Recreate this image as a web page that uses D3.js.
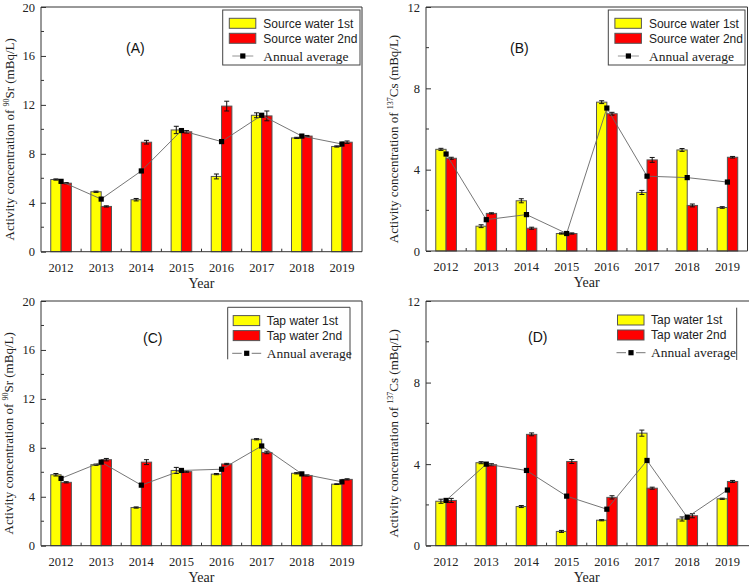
<!DOCTYPE html>
<html>
<head>
<meta charset="utf-8">
<script src="https://cdn.jsdelivr.net/npm/d3@7"></script>
<style>
  body { margin: 0; background: #fff; }
  svg { display: block; }
</style>
</head>
<body>
<div id="chart"></div>
<script>
const years = ["2012", "2013", "2014", "2015", "2016", "2017", "2018", "2019"];

// (A) source water, 90Sr
const srcSr1 = [5.9, 4.9, 4.25, 9.95, 6.15, 11.15, 9.3, 8.6];
const srcSr2 = [5.6, 3.7, 8.95, 9.8, 11.9, 11.1, 9.45, 8.95];
const srcSrAvg = [5.75, 4.3, 6.6, 9.9, 9.0, 11.15, 9.45, 8.8];
const srcSr1Err = [0.05, 0.05, 0.1, 0.3, 0.2, 0.2, 0.05, 0.05];
const srcSr2Err = [0.05, 0.05, 0.15, 0.1, 0.4, 0.4, 0.05, 0.1];

// (B) source water, 137Cs
const srcCs1 = [5.0, 1.22, 2.47, 0.86, 7.32, 2.88, 4.97, 2.14];
const srcCs2 = [4.56, 1.85, 1.12, 0.86, 6.75, 4.48, 2.24, 4.61];
const srcCsAvg = [4.77, 1.54, 1.79, 0.86, 7.03, 3.68, 3.61, 3.39];
const srcCs1Err = [0.05, 0.07, 0.1, 0.03, 0.07, 0.1, 0.07, 0.04];
const srcCs2Err = [0.05, 0.03, 0.05, 0.03, 0.07, 0.12, 0.07, 0.04];

// (C) tap water, 90Sr
const tapSr1 = [5.8, 6.62, 3.12, 6.15, 5.85, 8.7, 5.92, 5.03];
const tapSr2 = [5.18, 7.03, 6.83, 6.05, 6.68, 7.62, 5.74, 5.42];
const tapSrAvg = [5.5, 6.83, 4.95, 6.15, 6.25, 8.15, 5.87, 5.22];
const tapSr1Err = [0.1, 0.05, 0.05, 0.25, 0.05, 0.05, 0.05, 0.03];
const tapSr2Err = [0.05, 0.1, 0.2, 0.05, 0.05, 0.1, 0.05, 0.05];

// (D) tap water, 137Cs
const tapCs1 = [2.18, 4.07, 1.92, 0.7, 1.25, 5.52, 1.31, 2.3];
const tapCs2 = [2.22, 3.97, 5.46, 4.13, 2.37, 2.82, 1.47, 3.15];
const tapCsAvg = [2.22, 4.0, 3.69, 2.43, 1.79, 4.18, 1.4, 2.73];
const tapCs1Err = [0.1, 0.05, 0.05, 0.05, 0.03, 0.15, 0.1, 0.03];
const tapCs2Err = [0.1, 0.05, 0.07, 0.1, 0.08, 0.05, 0.1, 0.05];

const srTicks = [0, 4, 8, 12, 16, 20];
const csTicks = [0, 4, 8, 12];

const serif = "'Liberation Serif', 'Times New Roman', serif";
const sans = "'Liberation Sans', Arial, sans-serif";

const panels = [
    { tag: "(A)", label: "Source water", iso: "Sr", mass: "90", max: 20, ticks: srTicks,
      v1: srcSr1, v2: srcSr2, avg: srcSrAvg, e1: srcSr1Err, e2: srcSr2Err,
      left: 41, right: 362, top: 7, bottom: 251.7, legendBox: "full",
      lx: 222.7, ly: 10, lw: 137.3, lh: 55, tagX: 126, tagY: 53, titleX: 14 },
    { tag: "(B)", label: "Source water", iso: "Cs", mass: "137", max: 12, ticks: csTicks,
      v1: srcCs1, v2: srcCs2, avg: srcCsAvg, e1: srcCs1Err, e2: srcCs2Err,
      left: 426, right: 747.5, top: 7, bottom: 251, legendBox: "full",
      lx: 608.3, ly: 10, lw: 136.7, lh: 55, tagX: 510, tagY: 53, titleX: 398 },
    { tag: "(C)", label: "Tap water", iso: "Sr", mass: "90", max: 20, ticks: srTicks,
      v1: tapSr1, v2: tapSr2, avg: tapSrAvg, e1: tapSr1Err, e2: tapSr2Err,
      left: 41, right: 362, top: 301, bottom: 545.7, legendBox: "open",
      lx: 227.7, ly: 307.3, lw: 122.3, lh: 52, tagX: 143, tagY: 343, titleX: 13 },
    { tag: "(D)", label: "Tap water", iso: "Cs", mass: "137", max: 12, ticks: csTicks,
      v1: tapCs1, v2: tapCs2, avg: tapCsAvg, e1: tapCs1Err, e2: tapCs2Err,
      left: 426, right: 747.5, top: 301, bottom: 545.7, legendBox: "right", noRight: true,
      lx: 612, ly: 306.7, lw: 124.7, lh: 53.3, tagX: 528, tagY: 342, titleX: 398 }
];

const svg = d3.select("#chart").append("svg")
    .attr("width", 749)
    .attr("height", 587);

panels.forEach(p => {
    const g = svg.append("g");
    const x = d3.scaleBand().domain(years).range([p.left, p.right]).padding(0);
    const y = d3.scaleLinear().domain([0, p.max]).range([p.bottom, p.top]);
    const half = x.bandwidth() * 0.257;
    const sub = d3.scaleBand().domain(["1st", "2nd"]).range([-half, half]).padding(0);
    const cx = d => x(d) + x.bandwidth() / 2;

    // minor ticks on y (inward)
    const minor = d3.range(2, p.max, 4);
    g.selectAll(".ymin").data(minor).join("line")
        .attr("x1", p.left).attr("x2", p.left + 3)
        .attr("y1", d => y(d)).attr("y2", d => y(d))
        .attr("stroke", "#333").attr("stroke-width", 1);

    // minor ticks on x at band boundaries
    g.selectAll(".xmin").data(years.slice(1)).join("line")
        .attr("x1", d => x(d)).attr("x2", d => x(d))
        .attr("y1", p.bottom).attr("y2", p.bottom - 3)
        .attr("stroke", "#333").attr("stroke-width", 1);

    // bars
    const series = [
        { key: "1st", vals: p.v1, errs: p.e1, fill: "#ffff00" },
        { key: "2nd", vals: p.v2, errs: p.e2, fill: "#ff0000" }
    ];
    series.forEach(s => {
        g.selectAll(null).data(years).join("rect")
            .attr("x", d => cx(d) + sub(s.key))
            .attr("y", (d, i) => y(s.vals[i]))
            .attr("width", sub.bandwidth())
            .attr("height", (d, i) => y(0) - y(s.vals[i]))
            .attr("fill", s.fill)
            .attr("stroke", "#555")
            .attr("stroke-width", 1);

        // error bars
        years.forEach((d, i) => {
            const ex = cx(d) + sub(s.key) + sub.bandwidth() / 2;
            const hi = y(s.vals[i] + s.errs[i]);
            const lo = y(s.vals[i] - s.errs[i]);
            g.append("line").attr("x1", ex).attr("x2", ex).attr("y1", hi).attr("y2", lo)
                .attr("stroke", "#111").attr("stroke-width", 1);
            [hi, lo].forEach(yy => {
                g.append("line").attr("x1", ex - 2.5).attr("x2", ex + 2.5)
                    .attr("y1", yy).attr("y2", yy)
                    .attr("stroke", "#111").attr("stroke-width", 1);
            });
        });
    });

    // annual average line + markers
    g.append("path")
        .datum(years)
        .attr("fill", "none")
        .attr("stroke", "#666")
        .attr("stroke-width", 0.9)
        .attr("d", d3.line().x(d => cx(d)).y((d, i) => y(p.avg[i])));
    g.selectAll(".mk").data(years).join("rect")
        .attr("x", d => cx(d) - 2.6)
        .attr("y", (d, i) => y(p.avg[i]) - 2.6)
        .attr("width", 5.2).attr("height", 5.2)
        .attr("fill", "#000");

    // axes
    const yAxis = d3.axisLeft(y).tickValues(p.ticks).tickSizeInner(-5).tickSizeOuter(0).tickPadding(6);
    const ya = g.append("g").attr("transform", `translate(${p.left},0)`).call(yAxis);
    const xAxis = d3.axisBottom(x).tickSizeInner(0).tickSizeOuter(0).tickPadding(11);
    const xa = g.append("g").attr("transform", `translate(0,${p.bottom})`).call(xAxis);
    [ya, xa].forEach(a => {
        a.select(".domain").remove();
        a.selectAll("line").attr("stroke", "#333");
        a.selectAll("text").attr("font-family", serif).attr("font-size", 12.5).attr("fill", "#222");
    });

    // frame
    const frame = g.append("g").attr("stroke", "#333").attr("stroke-width", 1).attr("fill", "none");
    frame.append("line").attr("x1", p.left).attr("x2", p.left).attr("y1", p.top).attr("y2", p.bottom);
    frame.append("line").attr("x1", p.left).attr("x2", p.noRight ? 749 : p.right).attr("y1", p.bottom).attr("y2", p.bottom);
    frame.append("line").attr("x1", p.left).attr("x2", p.noRight ? 749 : p.right).attr("y1", p.top).attr("y2", p.top);
    if (!p.noRight) {
        frame.append("line").attr("x1", p.right).attr("x2", p.right).attr("y1", p.top).attr("y2", p.bottom);
    }

    // axis titles
    g.append("text")
        .attr("x", (p.left + p.right) / 2)
        .attr("y", p.bottom + 36)
        .attr("text-anchor", "middle")
        .attr("font-family", serif).attr("font-size", 14).attr("fill", "#222")
        .text("Year");
    const yt = g.append("text")
        .attr("transform", `translate(${p.titleX},${(p.top + p.bottom) / 2 + 10}) rotate(-90)`)
        .attr("text-anchor", "middle")
        .attr("font-family", serif).attr("font-size", 13).attr("fill", "#222");
    yt.append("tspan").text("Activity concentration of ");
    yt.append("tspan").attr("font-size", 8).attr("dy", -5).text(p.mass);
    yt.append("tspan").attr("dy", 5).text(`${p.iso} (mBq/L)`);

    // panel tag
    g.append("text")
        .attr("x", p.tagX).attr("y", p.tagY)
        .attr("font-family", sans).attr("font-size", 14).attr("fill", "#111")
        .text(p.tag);

    // legend
    const L = g.append("g").attr("transform", `translate(${p.lx},${p.ly})`);
    const bs = L.append("g").attr("stroke", "#444").attr("stroke-width", 1).attr("fill", "none");
    if (p.legendBox === "full") {
        bs.append("rect").attr("width", p.lw).attr("height", p.lh);
    } else if (p.legendBox === "open") {
        bs.append("path").attr("d", `M0,${p.lh}V0H${p.lw}V${p.lh}`);
    } else {
        bs.append("line").attr("x1", p.lw).attr("x2", p.lw).attr("y1", 1).attr("y2", p.lh);
    }
    const sx = p.legendBox === "full" ? 6.6 : 5.5;
    const tx = p.legendBox === "full" ? 40.6 : 39;
    const rows = [
        { name: `${p.label} 1st`, fill: "#ffff00", yy: 8.3 },
        { name: `${p.label} 2nd`, fill: "#ff0000", yy: 23.3 }
    ];
    rows.forEach(r => {
        L.append("rect").attr("x", sx).attr("y", r.yy).attr("width", 26.5).attr("height", 10)
            .attr("fill", r.fill).attr("stroke", "#555").attr("stroke-width", 1);
        L.append("text").attr("x", tx).attr("y", r.yy + 9.5)
            .attr("font-family", sans).attr("font-size", 12).attr("fill", "#222")
            .text(r.name);
    });
    const ay = 46;
    const mx = sx + 13.5;
    if (p.legendBox === "full") {
        L.append("line").attr("x1", sx + 3).attr("x2", sx + 24).attr("y1", ay).attr("y2", ay)
            .attr("stroke", "#888").attr("stroke-width", 0.9);
    } else {
        L.append("line").attr("x1", sx - 1).attr("x2", mx - 5).attr("y1", ay).attr("y2", ay)
            .attr("stroke", "#666").attr("stroke-width", 0.9);
        L.append("line").attr("x1", mx + 5).attr("x2", sx + 28).attr("y1", ay).attr("y2", ay)
            .attr("stroke", "#666").attr("stroke-width", 0.9);
    }
    L.append("rect").attr("x", mx - 2.6).attr("y", ay - 2.6).attr("width", 5.2).attr("height", 5.2).attr("fill", "#000");
    L.append("text").attr("x", tx).attr("y", ay + 4.5)
        .attr("font-family", serif).attr("font-size", 13.5).attr("fill", "#222")
        .text("Annual average");
});
</script>
</body>
</html>
